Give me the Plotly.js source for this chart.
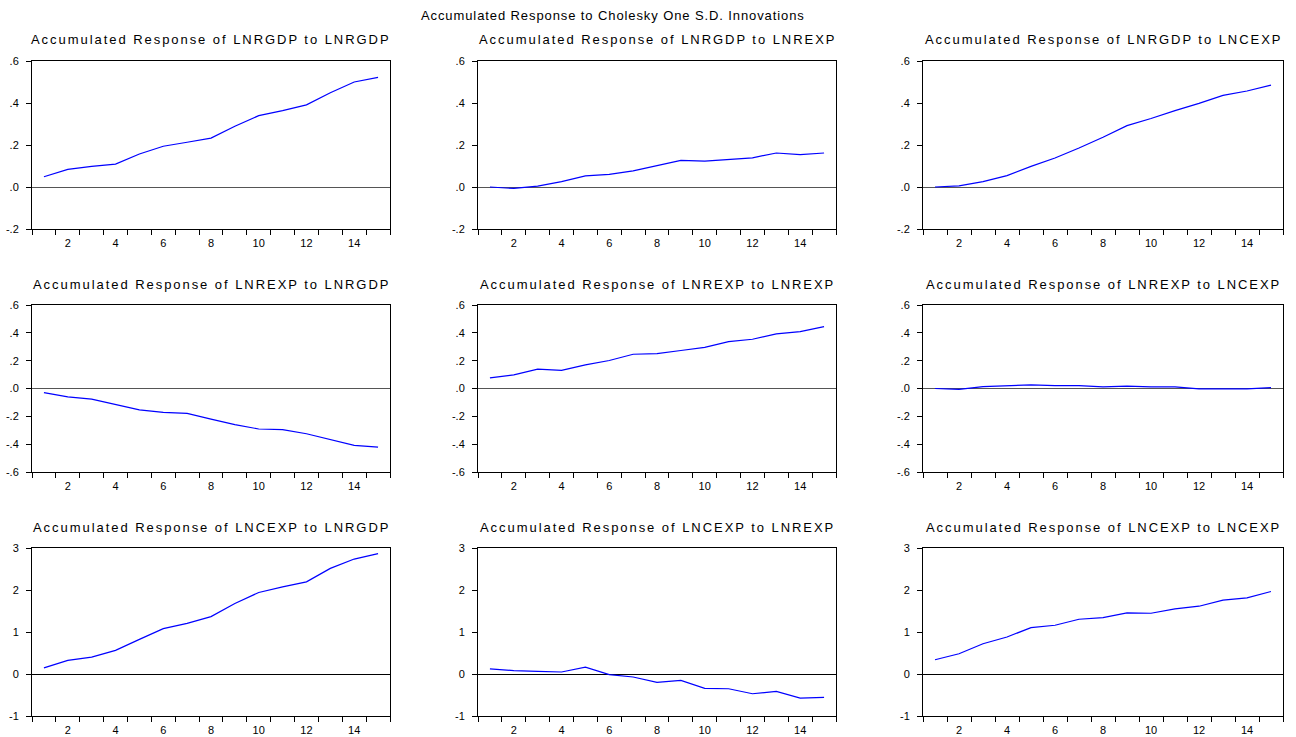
<!DOCTYPE html>
<html><head><meta charset="utf-8">
<script src="https://cdn.plot.ly/plotly-3.0.1.min.js"></script>
<style>html,body{margin:0;padding:0;background:#fff;}#chart{width:1296px;height:737px;}</style>
</head><body><div id="chart"></div>
<script>
// ---- data ----
const periods = [1,2,3,4,5,6,7,8,9,10,11,12,13,14,15];
const xTickVals = [2,4,6,8,10,12,14];
const xTickText = ["2","4","6","8","10","12","14"];

const mainTitle = "Accumulated Response to Cholesky One S.D. Innovations";
const panelTitles = [
  "Accumulated Response of LNRGDP to LNRGDP",
  "Accumulated Response of LNRGDP to LNREXP",
  "Accumulated Response of LNRGDP to LNCEXP",
  "Accumulated Response of LNREXP to LNRGDP",
  "Accumulated Response of LNREXP to LNREXP",
  "Accumulated Response of LNREXP to LNCEXP",
  "Accumulated Response of LNCEXP to LNRGDP",
  "Accumulated Response of LNCEXP to LNREXP",
  "Accumulated Response of LNCEXP to LNCEXP"
];

const gdpToGdp   = [0.049,0.084,0.098,0.109,0.157,0.194,0.213,0.233,0.289,0.340,0.364,0.391,0.449,0.500,0.522];
const gdpToRexp  = [0.000,-0.007,0.004,0.026,0.053,0.060,0.077,0.101,0.127,0.123,0.131,0.139,0.162,0.154,0.162];
const gdpToCexp  = [0.000,0.005,0.026,0.054,0.098,0.138,0.186,0.237,0.292,0.326,0.364,0.398,0.436,0.457,0.485];
const rexpToGdp  = [-0.029,-0.060,-0.076,-0.117,-0.153,-0.172,-0.179,-0.220,-0.260,-0.291,-0.296,-0.325,-0.368,-0.409,-0.421];
const rexpToRexp = [0.077,0.098,0.139,0.130,0.170,0.201,0.246,0.251,0.273,0.296,0.337,0.354,0.392,0.409,0.445];
const rexpToCexp = [0.000,-0.007,0.014,0.021,0.026,0.021,0.021,0.012,0.017,0.012,0.012,-0.002,0.000,-0.002,0.007];
const cexpToGdp  = [0.147,0.323,0.402,0.562,0.825,1.080,1.207,1.367,1.677,1.940,2.076,2.195,2.514,2.737,2.865];
const cexpToRexp = [0.123,0.080,0.064,0.048,0.163,-0.016,-0.072,-0.199,-0.151,-0.343,-0.351,-0.470,-0.414,-0.574,-0.558];
const cexpToCexp = [0.339,0.482,0.721,0.881,1.104,1.160,1.303,1.343,1.454,1.446,1.550,1.614,1.757,1.813,1.964];

const series = [gdpToGdp,gdpToRexp,gdpToCexp,rexpToGdp,rexpToRexp,rexpToCexp,cexpToGdp,cexpToRexp,cexpToCexp];

const row1TickVals = [-0.2,0,0.2,0.4,0.6];
const row1TickText = ["-.2",".0",".2",".4",".6"];
const row2TickVals = [-0.6,-0.4,-0.2,0,0.2,0.4,0.6];
const row2TickText = ["-.6","-.4","-.2",".0",".2",".4",".6"];
const row3TickVals = [-1,0,1,2,3];
const row3TickText = ["-1","0","1","2","3"];

// ---- layout ----
const W = 1296, H = 737;
const colPix = [[32,390],[478,836],[923,1283]];
const rowPix = [[61,229],[305,472],[548,716]];
const titleCy = [39.5, 284, 527];
const rowRanges = [[-0.2,0.6],[-0.6,0.6],[-1,3]];
const rowTicks = [[row1TickVals,row1TickText],[row2TickVals,row2TickText],[row3TickVals,row3TickText]];
const zeroColors = ['#555555','#555555','#000000'];
const FONT = 'Liberation Sans, Arial, sans-serif';

const traces = [];
const layout = {
  width: W, height: H,
  margin: {l:0,r:0,t:0,b:0,pad:0},
  paper_bgcolor:'#fff', plot_bgcolor:'#fff',
  showlegend:false, hovermode:false,
  font:{family:FONT,size:11,color:'#000'},
  annotations: [],
};

for (let i = 0; i < 9; i++) {
  const r = Math.floor(i/3), c = i%3;
  const n = i+1;
  const xa = 'xaxis'+(n===1?'':n), ya = 'yaxis'+(n===1?'':n);
  const xr = 'x'+(n===1?'':n), yr = 'y'+(n===1?'':n);
  traces.push({
    type:'scatter', mode:'lines', x: periods, y: series[i],
    xaxis: xr, yaxis: yr,
    line:{color:'#0000ff', width:1.2}
  });
  layout[xa] = {
    domain:[colPix[c][0]/W, colPix[c][1]/W],
    anchor: yr, range:[0.5,15.5], fixedrange:true,
    showgrid:false, zeroline:false,
    showline:true, mirror:true, linecolor:'#000', linewidth:1,
    tickmode:'array', tickvals:xTickVals, ticktext:xTickText,
    ticks:'', ticklabelstandoff:4,
    tickfont:{family:FONT,size:11,color:'#000'},
    minor:{tickmode:'linear', tick0:0.5, dtick:1, ticks:'outside', ticklen:5, tickwidth:1, tickcolor:'#000', showgrid:false}
  };
  layout[ya] = {
    domain:[1-rowPix[r][1]/H, 1-rowPix[r][0]/H],
    anchor: xr, range: rowRanges[r], fixedrange:true,
    showgrid:false, zeroline:true, zerolinecolor:zeroColors[r], zerolinewidth:1,
    showline:true, mirror:true, linecolor:'#000', linewidth:1,
    tickmode:'array', tickvals:rowTicks[r][0], ticktext:rowTicks[r][1],
    ticks:'outside', ticklen:5, tickwidth:1, tickcolor:'#000', ticklabelstandoff:5,
    tickfont:{family:FONT,size:11,color:'#000'}
  };
  layout.annotations.push({
    xref:'paper', yref:'paper',
    x:(colPix[c][0]+colPix[c][1])/2/W, y:1-titleCy[r]/H,
    xanchor:'center', yanchor:'middle', showarrow:false,
    text:'<span style="letter-spacing:1.95px">'+panelTitles[i]+'</span>',
    font:{family:FONT,size:13,color:'#000'}
  });
}
layout.annotations.push({
  xref:'paper', yref:'paper', x:613/W, y:1-15/H,
  xanchor:'center', yanchor:'middle', showarrow:false,
  text:'<span style="letter-spacing:0.9px">'+mainTitle+'</span>',
  font:{family:FONT,size:13,color:'#000'}
});

Plotly.newPlot('chart', traces, layout, {displayModeBar:false, staticPlot:true});
</script>
</body></html>
